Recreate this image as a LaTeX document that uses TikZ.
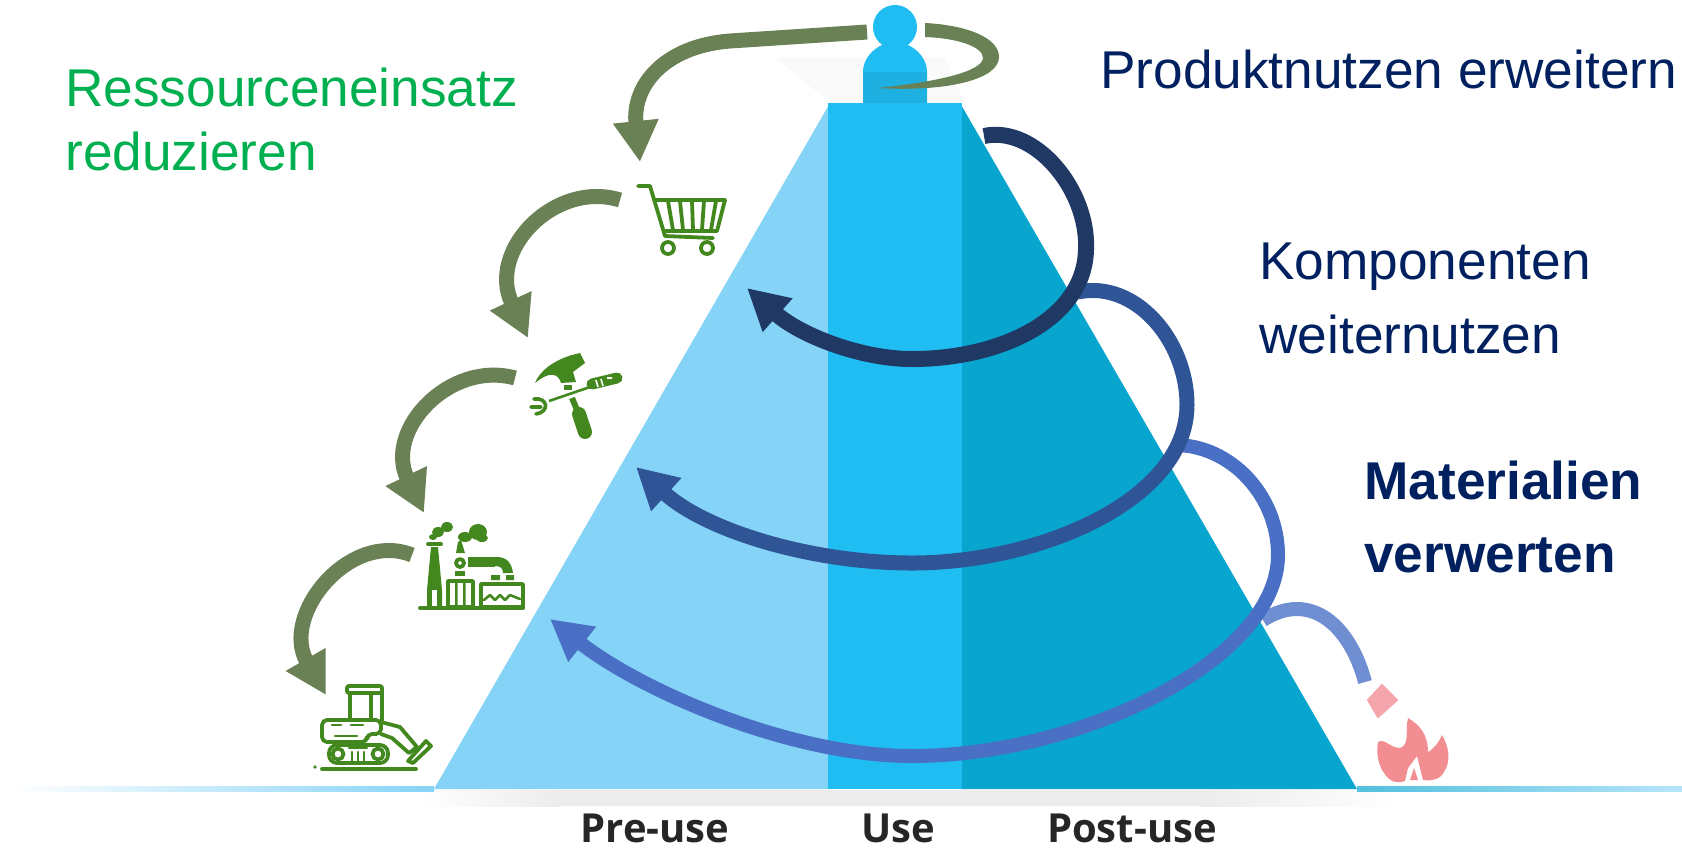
\documentclass[tikz,border=0pt]{standalone}
\usepackage{fontspec}
\setmainfont{Liberation Sans}
\newfontfamily\labelfont{Open Sans}
\usetikzlibrary{arrows.meta}
\definecolor{lightface}{HTML}{85D3F7}
\definecolor{midface}{HTML}{1FBDF2}
\definecolor{darkface}{HTML}{08A5CF}
\definecolor{bodydark}{HTML}{1DB0E0}
\definecolor{arrowgreen}{HTML}{6A8155}
\definecolor{icongreen}{HTML}{43881F}
\definecolor{textgreen}{HTML}{00B050}
\definecolor{textnavy}{HTML}{002060}
\definecolor{loopa}{HTML}{203864}
\definecolor{loopb}{HTML}{2F5597}
\definecolor{loopc}{HTML}{4A70C6}
\definecolor{loopd}{HTML}{6F8FD2}
\definecolor{flamepink}{HTML}{F28E92}
\definecolor{diamondpink}{HTML}{F4A6AC}
\definecolor{softgray}{HTML}{ECECEC}
\tikzset{
  greenarrow/.style={draw=arrowgreen,line width=7.5pt,-{Triangle[length=20.5pt,width=21.5pt]}},
  bluearrow/.style={-{Triangle[length=20.5pt,width=21pt]}},
  iconline/.style={draw=icongreen,line width=1.9pt,line join=round,line cap=round},
  iconthin/.style={draw=icongreen,line width=1.3pt,line join=round,line cap=round},
  maintext/.style={anchor=base west,inner sep=0pt,align=left},
  phase/.style={anchor=base,inner sep=0pt,text=black!85,font=\labelfont\bfseries\fontsize{20}{24}\selectfont},
}
\begin{document}
\begin{tikzpicture}[x=0.5pt,y=-0.5pt]
\useasboundingbox (0,0) rectangle (1682,848);
% soft shadows and base line
\fill[white!98!black] (775,57) -- (945,57) -- (965,103) -- (830,103) -- cycle;
\shade[left color=white,right color=softgray] (420,790) rectangle (560,806);
\fill[softgray] (560,790) rectangle (1200,806);
\shade[left color=softgray,right color=white] (1200,790) rectangle (1400,806);
\shade[left color=white,right color=lightface] (12,786) rectangle (434,791);
\shade[left color=darkface!70,right color=lightface!60] (1357,786) rectangle (1682,791);
% pyramid
\fill[lightface] (434,789) -- (830,103) -- (830,789) -- cycle;
\fill[darkface] (960,103) -- (1357,789) -- (960,789) -- cycle;
\fill[midface] (828,103) rectangle (962,789);
% person
\fill[midface] (895,27) circle (22);
\fill[midface] (863,103) -- (863,72) .. controls (863,55) and (880,42) .. (895,42) .. controls (910,42) and (927,55) .. (927,72) -- (927,103) -- cycle;
\fill[bodydark] (863,72) rectangle (927,103);
% green arrows
\coordinate (gas) at (867,32); \coordinate (gam) at (730,41); \coordinate (gat) at (640,162);
\coordinate (gbs) at (620,200); \coordinate (gbt) at (528,338);
\coordinate (gcs) at (515,378); \coordinate (gct) at (424,513);
\coordinate (gds) at (412,555); \coordinate (gdt) at (326,695);
\draw[greenarrow] (gas) -- (gam) .. controls (665,46) and (632,85) .. (gat);
\draw[greenarrow] (gbs) .. controls (555,180) and (487,250) .. (gbt);
\draw[greenarrow] (gcs) .. controls (450,360) and (384,430) .. (gct);
\draw[greenarrow] (gds) .. controls (350,530) and (280,615) .. (gdt);
% tapered loop round the person
\fill[arrowgreen] (925,23) .. controls (965,25) and (999,37) .. (999,57) .. controls (999,80) and (945,92) .. (878,88) .. controls (935,82) and (982,72) .. (983,58) .. controls (983,46) and (955,38) .. (925,37) -- cycle;
% blue loops
\coordinate (lds) at (1263,620); \coordinate (ldt) at (1365,682);
\coordinate (lcs) at (1175,445); \coordinate (lct) at (550,619);
\coordinate (lbs) at (1078,292); \coordinate (lbt) at (636,467);
\coordinate (las) at (984,136); \coordinate (lat) at (747,288);
\draw[draw=loopd,line width=7pt] (lds) .. controls (1310,590) and (1350,625) .. (ldt);
\draw[bluearrow,draw=loopc,line width=7pt] (lcs) .. controls (1230,445) and (1278,495) .. (1278,555) .. controls (1278,660) and (1080,756) .. (912,756) .. controls (790,756) and (640,690) .. (lct);
\draw[bluearrow,draw=loopb,line width=7.5pt] (lbs) .. controls (1135,280) and (1187,340) .. (1187,405) .. controls (1187,500) and (1040,563) .. (912,563) .. controls (810,563) and (705,530) .. (lbt);
\draw[bluearrow,draw=loopa,line width=8pt] (las) .. controls (1035,125) and (1089,190) .. (1086,250) .. controls (1084,320) and (1000,359) .. (912,359) .. controls (860,359) and (800,335) .. (lat);
% cart
\draw[iconline] (638,186) -- (650,186) -- (665,236) -- (713,238);
\draw[iconline] (655,200) -- (725,200) -- (717,231) -- (665,231);
\foreach \a/\b in {668/673,680/683,692/693,704/702,716/711}{\draw[iconline] (\a,201) -- (\b,230);}
\draw[iconline] (668,248) circle (6); \draw[iconline] (707,248) circle (6);
% tools
\fill[icongreen] (535,383) .. controls (540,370) and (555,360) .. (572,355) -- (580,353) -- (585,363) -- (573,372) -- (576,382) -- (561,383) .. controls (558,372) and (548,372) .. (535,383) -- cycle;
\fill[icongreen] (564,385) rectangle (572,390);
\draw[icongreen,line width=3pt] (572,398) -- (577,410);
\draw[icongreen,line width=7pt,line cap=round] (579,414) -- (585,432);
\draw[icongreen,line width=1.3pt] (549,401) -- (590,387);
\draw[icongreen,line width=5.5pt,line cap=round] (592,384) -- (617,378);
\draw[white,line width=.8pt] (596,380) -- (598,387) (601,379) -- (603,386) (607,378) -- (612,378);
\draw[icongreen,line width=1.8pt,line cap=round] (531,407) -- (541,407) (534,399) .. controls (548,397) and (550,412) .. (536,414);
% factory
\draw[iconline] (420,608) -- (523,608);
\fill[icongreen] (431,547) -- (438,547) -- (442,590) -- (442,608) -- (427,608) -- (427,590) -- cycle;
\draw[iconline] (428,544) -- (441,544);
\fill[white] (432,590) rectangle (437,606);
\draw[iconline] (448,581) rectangle (473,607);
\fill[icongreen] (455,581) rectangle (457.5,607) (463,581) rectangle (465.5,607);
\draw[iconline] (481,584) rectangle (523,607);
\draw[iconthin] (484,600) -- (490,595) -- (495,600) -- (500,595) -- (505,600) -- (510,595) -- (520,599);
\fill[icongreen] (491,575) rectangle (500,580) (506,575) rectangle (514,580);
\fill[icongreen] (468,557) rectangle (495,567);
\fill[icongreen] (495,557) .. controls (508,556) and (512,565) .. (513,573) -- (503,573) .. controls (503,568) and (500,566) .. (495,566) -- cycle;
\draw[iconline] (460,563) circle (4);
\fill[icongreen] (458,542) -- (461,540) -- (465,553) -- (456,553) -- cycle;
\fill[icongreen] (455,571) rectangle (465,576);
\fill[icongreen] (438,532) ellipse (6 and 5) (447,527) ellipse (6 and 5) (433,537) ellipse (4 and 3);
\fill[icongreen] (465,537) ellipse (7 and 5) (478,532) ellipse (9 and 8) (482,538) ellipse (6 and 4);
% excavator
\draw[iconline,rounded corners=1pt] (347,686) rectangle (382,693);
\draw[iconline] (350,693) -- (350,720) (382,693) -- (382,720) (371,693) -- (371,720);
\draw[iconline,rounded corners=2.5pt] (367,742) -- (322,742) -- (322,720) -- (381,720) -- (381,734) -- (367,734) -- cycle;
\draw[iconthin] (332,725) -- (341,725) (351,725) -- (363,725) (335,736) -- (357,736);
\draw[iconline,rounded corners=4pt] (329,745) rectangle (388,763);
\draw[iconline] (338,754) circle (5.5) (378,754) circle (5.5);
\draw[iconthin] (349,748) -- (367,748) (352,752) -- (352,762) (358,752) -- (358,762) (364,752) -- (364,762);
\draw[iconline] (381,722) -- (400,727) -- (417,747) -- (409,753) -- (392,738) -- (381,734);
\draw[iconline] (426,741) -- (431,746) -- (413,763) -- (408,761) -- cycle;
\draw[iconline] (322,769) -- (416,769);
\fill[icongreen] (315,767) circle (1.8);
% flame
\fill[diamondpink,draw=diamondpink,line width=1pt,line join=round] (1382,685) -- (1397,700) -- (1378,717) -- (1368,700) -- cycle;
\fill[flamepink] (1378,742) .. controls (1385,738) and (1390,748) .. (1400,748) .. controls (1410,745) and (1405,730) .. (1408,718) .. controls (1420,725) and (1428,735) .. (1428,752) .. controls (1435,748) and (1440,740) .. (1442,735) .. controls (1448,745) and (1452,760) .. (1444,772) .. controls (1440,780) and (1430,781) .. (1423,780) -- (1417,756) -- (1408,768) -- (1405,781) .. controls (1397,784) and (1390,782) .. (1384,773) .. controls (1378,765) and (1376,752) .. (1378,742) -- cycle;
\fill[flamepink] (1414,768) -- (1410,780) -- (1418,780) -- cycle;
% texts
\node[maintext,text=textgreen,font=\fontsize{26.6}{32}\selectfont] (reduce) at (65,170) {Ressourceneinsatz\\reduzieren};
\node[maintext,text=textnavy,font=\fontsize{26.6}{32}\selectfont] (extend) at (1100,88) {Produktnutzen erweitern};
\node[maintext,text=textnavy,font=\fontsize{26.6}{37}\selectfont] (reuse) at (1259,353) {Komponenten\\weiternutzen};
\node[maintext,text=textnavy,font=\fontsize{26.6}{36.5}\selectfont\bfseries] (recycle) at (1364,572) {Materialien\\verwerten};
\node[phase] (pre) at (655,842) {Pre-use};
\node[phase] (use) at (898,842) {Use};
\node[phase] (post) at (1132,842) {Post-use};
\end{tikzpicture}
\end{document}
